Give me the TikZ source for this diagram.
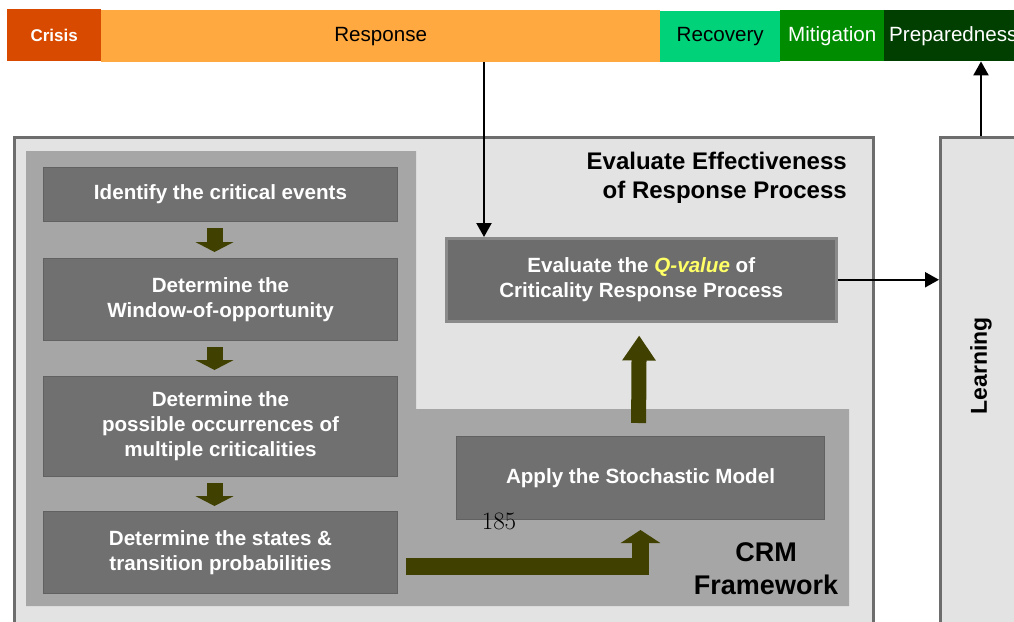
\documentclass[tikz,border=0pt]{standalone}
\usepackage{fontspec}
\newfontfamily\arial{Liberation Sans}
\usetikzlibrary{arrows.meta}
\definecolor{crisiscol}{HTML}{D84A00}
\definecolor{respcol}{HTML}{FFA940}
\definecolor{recocol}{HTML}{00D27A}
\definecolor{mitcol}{HTML}{008C00}
\definecolor{prepcol}{HTML}{003F00}
\definecolor{panelfill}{HTML}{E3E3E3}
\definecolor{panelline}{HTML}{6D6D6D}
\definecolor{midgray}{HTML}{A6A6A6}
\definecolor{boxfill}{HTML}{707070}
\definecolor{boxline}{HTML}{616161}
\definecolor{qline}{HTML}{8A8A8A}
\definecolor{olivec}{HTML}{404000}
\definecolor{qyellow}{HTML}{FFFF66}
\begin{document}
\begin{tikzpicture}[x=1pt,y=-1pt,
  bar/.style={anchor=north west, inner sep=0pt, font=\arial\fontsize{20.6}{24}\selectfont},
  panel/.style={draw=panelline, line width=3pt, fill=panelfill, anchor=north west, inner sep=0pt},
  stepbox/.style={draw=boxline, line width=1pt, fill=boxfill, text=white,
    font=\arial\bfseries\fontsize{20.6}{25}\selectfont, align=center, inner sep=0pt, anchor=north west},
  fat/.style={draw=olivec, line width=16pt, -{Triangle[length=10pt,width=38pt]}},
  blk/.style={draw=black, line width=2.2pt, -{Triangle[length=14pt,width=15pt]}},
  title/.style={font=\arial\bfseries\fontsize{24}{29}\selectfont, inner sep=0pt}
]
\useasboundingbox (0,0) rectangle (1014,621);
% top bar
\node[bar, fill=crisiscol, minimum width=94pt, minimum height=52pt, text=white,
  font=\arial\bfseries\fontsize{17}{20}\selectfont] (crisis) at (7,9) {Crisis};
\node[bar, fill=respcol, minimum width=559pt, minimum height=52pt] (resp) at (101,10) {Response};
\node[bar, fill=recocol, minimum width=120pt, minimum height=51pt] (reco) at (660,11) {Recovery};
\node[bar, fill=mitcol, minimum width=104pt, minimum height=51pt, text=white] (mit) at (780,10) {\raisebox{3pt}{Mitigation}};
\node[bar, fill=prepcol, minimum width=140pt, minimum height=51pt, text width=130pt,
  inner xsep=5pt, align=left, text=white] (prep) at (884,10) {Preparedness};
% panels
\node[panel, minimum width=859pt, minimum height=510pt] (outer) at (12.5,135.5) {};
\node[panel, minimum width=86pt, minimum height=510pt] (learn) at (939,135.5) {};
\node[rotate=90, font=\arial\bfseries\fontsize{23}{27}\selectfont, inner sep=0pt] (learntext) at (981,366) {Learning};
\fill[midgray] (26,151) -- (416,151) -- (416,409) -- (849,409) -- (849,606) -- (26,606) -- cycle;
% left boxes
\node[stepbox, minimum width=354pt, minimum height=54pt] (b1) at (43,167) {Identify the critical events};
\node[stepbox, minimum width=354pt, minimum height=82pt] (b2) at (43,258) {Determine the\\Window-of-opportunity};
\node[stepbox, minimum width=354pt, minimum height=100pt] (b3) at (43,376) {Determine the\\possible occurrences of\\multiple criticalities};
\node[stepbox, minimum width=354pt, minimum height=82pt] (b4) at (43,511) {Determine the states \&\\transition probabilities};
% right boxes
\node[stepbox, draw=qline, line width=2.5pt, fill=boxfill!97!black, minimum width=390pt, minimum height=83pt] (q) at (445,237)
  {Evaluate the \textcolor{qyellow}{\itshape Q-value} of\\Criticality Response Process};
\node[stepbox, minimum width=368pt, minimum height=83pt] (apply) at (456,436) {Apply the Stochastic Model};
% titles
\node[title, anchor=east, align=right] (evtitle) at (847,177.5) {Evaluate Effectiveness\\of Response Process};
\node[font=\arial\bfseries\fontsize{27}{33}\selectfont, inner sep=0pt, align=center] (crm) at (766,568.5) {CRM\\Framework};
\node[font=\fontsize{25}{30}\selectfont, inner sep=0pt] (pg) at (499,521) {185};
% fat arrows
\draw[fat, shorten <=6pt, shorten >=6pt] ([xshift=-6pt]b1.south) -- ([xshift=-6pt]b2.north);
\draw[fat, shorten <=6pt, shorten >=6pt] ([xshift=-6pt]b2.south) -- ([xshift=-6pt]b3.north);
\draw[fat, shorten <=6pt, shorten >=5pt] ([xshift=-6pt]b3.south) -- ([xshift=-6pt]b4.north);
\draw[fat, line width=17pt, -{Triangle[length=13pt,width=39pt]}] ([xshift=8pt,yshift=-13.5pt]b4.east) -| ([yshift=-10pt]apply.south);
\draw[fat, line width=15pt, -{Triangle[length=25pt,width=32pt]}, shorten <=13pt, shorten >=13pt] ([xshift=-2pt]apply.north) -- ([xshift=-2pt]q.south);
% black arrows
\coordinate (qa) at ([xshift=39pt]q.north west);
\draw[blk] (resp.south -| qa) -- (qa);
\draw[blk] (q.east) -- (q.east -| learn.west);
\coordinate (la) at ([xshift=42pt]learn.north west);
\draw[blk] (la) -- (la |- prep.south);
\end{tikzpicture}
\end{document}
